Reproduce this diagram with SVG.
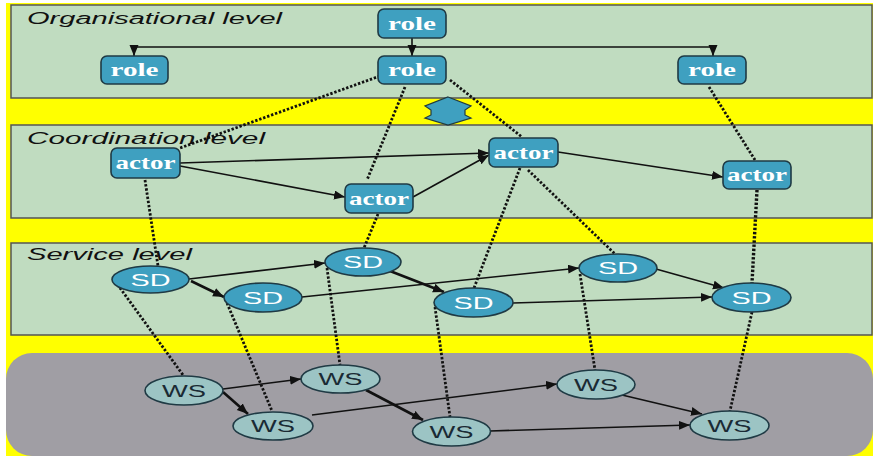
<svg xmlns="http://www.w3.org/2000/svg" width="873" height="456" viewBox="0 0 873 456">
<style>
.panel{fill:#c0dcc0;stroke:#555;stroke-width:1.5}
.title{font-family:"Liberation Sans",Arial,sans-serif;font-style:italic;font-size:16px;fill:#111}
.box{fill:#3fa0c0;stroke:#1f3a44;stroke-width:1.6}
.sd{fill:#3fa0c0;stroke:#1f3a44;stroke-width:1.6}
.ws{fill:#9cc4c4;stroke:#1f3a44;stroke-width:1.6}
.rt{font-family:"Liberation Serif","Times New Roman",serif;font-weight:bold;font-size:19px;fill:#fff;text-anchor:middle}
.st{font-family:"Liberation Sans",Arial,sans-serif;font-size:17px;fill:#fff;text-anchor:middle}
.wt{font-family:"Liberation Sans",Arial,sans-serif;font-size:16px;fill:#1a2a34;text-anchor:middle}
.arr{fill:none;stroke:#111;stroke-width:1.6;marker-end:url(#ah)}
.thick{stroke-width:2.6}
.dot{fill:none;stroke:#111;stroke-width:2.8;stroke-dasharray:2.4 1.8}
</style>
<defs>
<marker id="ah" markerUnits="userSpaceOnUse" markerWidth="12" markerHeight="10" refX="11" refY="4.5" orient="auto">
<path d="M0,0 L11,4.5 L0,9 z" fill="#111"/>
</marker>
</defs>
<rect x="0" y="0" width="873" height="456" fill="#fff"/>
<rect x="6" y="3" width="867" height="453" fill="#ffff00"/>
<rect class="panel" x="11" y="5" width="861" height="93"/>
<rect class="panel" x="11" y="125" width="861" height="93"/>
<rect class="panel" x="11" y="243" width="861" height="92"/>
<rect x="6" y="353" width="867" height="103" rx="26" fill="#a09ea4"/>
<text class="title" x="27" y="24" textLength="255" lengthAdjust="spacingAndGlyphs">Organisational level</text>
<text class="title" x="27" y="144" textLength="238" lengthAdjust="spacingAndGlyphs">Coordination level</text>
<text class="title" x="27" y="260" textLength="165" lengthAdjust="spacingAndGlyphs">Service level</text>
<path d="M448,97 L471,106 L465,110 L465,115 L471,118 L448,125 L425,118 L431,115 L431,110 L425,106 Z" fill="#3fa0c0" stroke="#1f3a44" stroke-width="1.2"/>
<g id="connectors">
<path class="arr" d="M412,38 L412,56"/>
<path class="arr" d="M412,47 L134,47 L134,56"/>
<path class="arr" d="M412,47 L713,47 L713,56"/>
<path class="dot" d="M380,76 L180,148"/>
<path class="dot" d="M405,87 L367,180"/>
<path class="dot" d="M450,80 L522,137"/>
<path class="dot" d="M709,87 L755,160"/>
<path class="arr" d="M180,163 L489,153"/>
<path class="arr" d="M180,166 L345,197"/>
<path class="arr" d="M413,197 L489,155"/>
<path class="arr" d="M558,152 L723,177"/>
<path class="dot" d="M145,180 L158,266"/>
<path class="dot" d="M378,214 L364,248"/>
<path class="dot" d="M520,168 L474,288"/>
<path class="dot" d="M528,170 L615,254"/>
<path class="dot" style="stroke-width:3.4" d="M757,190 L752,283"/>
<path class="arr" d="M189,279 L325,263"/>
<path class="arr thick" d="M191,281 L224,297"/>
<path class="arr thick" d="M390,271 L444,292"/>
<path class="arr" d="M302,297 L579,268"/>
<path class="arr" d="M513,303 L712,297"/>
<path class="arr" d="M656,269 L724,288"/>
<path class="dot" d="M115,281 L183,375"/>
<path class="dot" d="M227,303 L272,411"/>
<path class="dot" d="M327,268 L340,365"/>
<path class="dot" d="M435,307 L450,417"/>
<path class="dot" d="M580,274 L595,370"/>
<path class="dot" d="M752,312 L730,411"/>
<path class="arr" d="M223,389 L301,379"/>
<path class="arr thick" d="M223,392 L248,414"/>
<path class="arr thick" d="M366,390 L423,420"/>
<path class="arr" d="M312,415 L557,384"/>
<path class="arr" d="M490,431 L690,425"/>
<path class="arr" d="M622,395 L702,414"/>
</g>
<g id="role_top"><rect class="box" x="378" y="9" width="68" height="29" rx="6"/><text class="rt" x="412" y="30" textLength="48" lengthAdjust="spacingAndGlyphs">role</text></g>
<g id="role_left"><rect class="box" x="101" y="56" width="67" height="28" rx="6"/><text class="rt" x="134.5" y="76" textLength="48" lengthAdjust="spacingAndGlyphs">role</text></g>
<g id="role_mid"><rect class="box" x="378" y="56" width="68" height="28" rx="6"/><text class="rt" x="412" y="76" textLength="48" lengthAdjust="spacingAndGlyphs">role</text></g>
<g id="role_right"><rect class="box" x="678" y="56" width="68" height="28" rx="6"/><text class="rt" x="712" y="76" textLength="48" lengthAdjust="spacingAndGlyphs">role</text></g>
<g id="actor1"><rect class="box" x="111" y="148" width="69" height="30" rx="6"/><text class="rt" x="145.5" y="169" textLength="60" lengthAdjust="spacingAndGlyphs">actor</text></g>
<g id="actor2"><rect class="box" x="345" y="184" width="68" height="29" rx="6"/><text class="rt" x="379" y="205" textLength="60" lengthAdjust="spacingAndGlyphs">actor</text></g>
<g id="actor3"><rect class="box" x="489" y="138" width="69" height="29" rx="6"/><text class="rt" x="523.5" y="159" textLength="60" lengthAdjust="spacingAndGlyphs">actor</text></g>
<g id="actor4"><rect class="box" x="723" y="161" width="68" height="28" rx="6"/><text class="rt" x="757" y="181" textLength="60" lengthAdjust="spacingAndGlyphs">actor</text></g>
<g id="sd1"><ellipse class="sd" cx="150.5" cy="279.5" rx="38.5" ry="13.5"/><text class="st" x="150.5" y="285.5" textLength="40" lengthAdjust="spacingAndGlyphs">SD</text></g>
<g id="sd2"><ellipse class="sd" cx="363" cy="262" rx="38" ry="14"/><text class="st" x="363" y="268" textLength="40" lengthAdjust="spacingAndGlyphs">SD</text></g>
<g id="sd3"><ellipse class="sd" cx="263" cy="297.5" rx="39" ry="14.5"/><text class="st" x="263" y="303.5" textLength="40" lengthAdjust="spacingAndGlyphs">SD</text></g>
<g id="sd4"><ellipse class="sd" cx="473.5" cy="302.5" rx="39.5" ry="14.5"/><text class="st" x="473.5" y="308.5" textLength="40" lengthAdjust="spacingAndGlyphs">SD</text></g>
<g id="sd5"><ellipse class="sd" cx="618" cy="268" rx="39" ry="14"/><text class="st" x="618" y="274" textLength="40" lengthAdjust="spacingAndGlyphs">SD</text></g>
<g id="sd6"><ellipse class="sd" cx="751.5" cy="297.5" rx="39.5" ry="14.5"/><text class="st" x="751.5" y="303.5" textLength="40" lengthAdjust="spacingAndGlyphs">SD</text></g>
<g id="ws1"><ellipse class="ws" cx="184" cy="390.5" rx="39" ry="14.5"/><text class="wt" x="184" y="396.5" textLength="44" lengthAdjust="spacingAndGlyphs">WS</text></g>
<g id="ws2"><ellipse class="ws" cx="340.5" cy="379" rx="39.5" ry="14"/><text class="wt" x="340.5" y="385" textLength="44" lengthAdjust="spacingAndGlyphs">WS</text></g>
<g id="ws3"><ellipse class="ws" cx="273" cy="426" rx="40" ry="14"/><text class="wt" x="273" y="432" textLength="44" lengthAdjust="spacingAndGlyphs">WS</text></g>
<g id="ws4"><ellipse class="ws" cx="451.5" cy="431.5" rx="39" ry="14.5"/><text class="wt" x="451.5" y="437.5" textLength="44" lengthAdjust="spacingAndGlyphs">WS</text></g>
<g id="ws5"><ellipse class="ws" cx="596" cy="384.5" rx="39" ry="14.5"/><text class="wt" x="596" y="390.5" textLength="44" lengthAdjust="spacingAndGlyphs">WS</text></g>
<g id="ws6"><ellipse class="ws" cx="729.5" cy="425.5" rx="39.5" ry="14.5"/><text class="wt" x="729.5" y="431.5" textLength="44" lengthAdjust="spacingAndGlyphs">WS</text></g>
</svg>
